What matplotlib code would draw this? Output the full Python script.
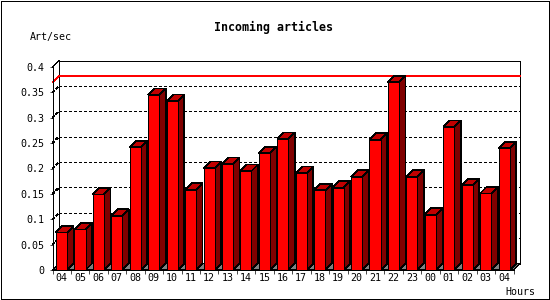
import numpy as np
import matplotlib
matplotlib.use("Agg")
import matplotlib.pyplot as plt
from matplotlib.patches import Rectangle

# ── data ──────────────────────────────────────────────
hours = ['04', '05', '06', '07', '08', '09', '10', '11', '12', '13', '14', '15',
         '16', '17', '18', '19', '20', '21', '22', '23', '00', '01', '02', '03', '04']
art_per_sec = [0.074, 0.080, 0.149, 0.107, 0.242, 0.345, 0.333, 0.158, 0.201,
               0.209, 0.195, 0.230, 0.258, 0.191, 0.157, 0.162, 0.184, 0.257,
               0.370, 0.184, 0.109, 0.282, 0.167, 0.151, 0.240]
y_ticks = [0, 0.05, 0.1, 0.15, 0.2, 0.25, 0.3, 0.35, 0.4]

# ── geometry (pixels of a 550x300 canvas) ─────────────
W, H = 550, 300
X0, X1 = 52.5, 513.5        # front floor, left/right
Y0, Y1 = 270.0, 67.0        # front value 0 / 0.4
DEPTH_PX = 6.5

n = len(hours)
YMAX = y_ticks[-1]
px_per_slot = (X1 - X0) / n
px_per_unit = (Y0 - Y1) / YMAX
DX = DEPTH_PX / px_per_slot
DY = DEPTH_PX / px_per_unit
FACE_OFF, FACE_W = 0.19, 0.60

FRONT = '#ff0000'
TOP = '#c00000'
SIDE = '#800000'
FLOOR = '#808080'
LW = 0.5                    # ~1 px when not antialiased
AA = False                  # crisp, GD-like edges
FONT = 'DejaVu Sans Mono'

fig = plt.figure(figsize=(W / 100, H / 100), dpi=100)
fig.patch.set_facecolor('white')
ax = fig.add_axes([X0 / W, 1 - Y0 / H, (X1 - X0) / W, (Y0 - Y1) / H])
ax.set_xlim(0, n)
ax.set_ylim(0, YMAX)
ax.patch.set_alpha(0)
for s in ('top', 'right'):
    ax.spines[s].set_visible(False)
for s in ('left', 'bottom'):
    ax.spines[s].set_linewidth(LW)
    ax.spines[s].set_zorder(6)
    ax.spines[s].set_antialiased(AA)

# back wall + floor + left side wall
ax.fill([DX, n + DX, n + DX, DX], [DY, DY, YMAX + DY, YMAX + DY],
        facecolor='white', edgecolor='black', lw=LW, antialiased=AA,
        clip_on=False, zorder=1)
ax.fill([0, n, n + DX, DX], [0, 0, DY, DY], facecolor=FLOOR,
        edgecolor='black', lw=LW, antialiased=AA, clip_on=False, zorder=1.5)
ax.plot([0, DX], [YMAX, YMAX + DY], color='black', lw=LW, antialiased=AA,
        clip_on=False, zorder=2)

# dotted grid on back wall and side wall
for v in y_ticks[1:-1]:
    ax.plot([DX, n + DX], [v + DY, v + DY], color='black', lw=LW,
            ls=(0, (3, 3)), antialiased=AA, clip_on=False, zorder=2)
    ax.plot([0, DX], [v, v + DY], color='black', lw=LW,
            ls=(0, (3, 3)), antialiased=AA, clip_on=False, zorder=2)

# red line at the maximum
vmax = max(art_per_sec)
ax.plot([0, DX, n + DX], [vmax, vmax + DY, vmax + DY], color='red', lw=LW,
        antialiased=AA, clip_on=False, zorder=2)

# 3d bars
for i, v in enumerate(art_per_sec):
    a = i + FACE_OFF
    b = a + FACE_W
    ax.fill([b, b + DX, b + DX, b], [0, DY, v + DY, v], facecolor=SIDE,
            edgecolor='black', lw=LW, antialiased=AA, clip_on=False, zorder=3)
    ax.fill([a, b, b + DX, a + DX], [v, v, v + DY, v + DY], facecolor=TOP,
            edgecolor='black', lw=LW, antialiased=AA, clip_on=False, zorder=3)
    ax.fill([a, b, b, a], [0, 0, v, v], facecolor=FRONT,
            edgecolor='black', lw=LW, antialiased=AA, clip_on=False, zorder=4)

# ticks
ax.set_xticks(np.arange(n + 1))
ax.set_xticklabels([])
ax.set_xticks(np.arange(n) + FACE_OFF + FACE_W / 2, minor=True)
ax.set_xticklabels(hours, minor=True, fontfamily=FONT, fontsize=7.2)
ax.tick_params(axis='x', which='major', direction='out', length=3, width=LW)
ax.tick_params(axis='x', which='minor', length=0, pad=2.5)
ax.set_yticks(y_ticks)
ax.set_yticklabels([f'{t:g}' for t in y_ticks], fontfamily=FONT, fontsize=7.2)
ax.tick_params(axis='y', direction='out', length=2.5, width=LW, pad=3)

# texts
fig.text(274 / W, 1 - 27 / H, 'Incoming articles', ha='center', va='center',
         fontfamily=FONT, fontsize=8.4, fontweight='bold')
fig.text(30 / W, 1 - 37 / H, 'Art/sec', ha='left', va='center',
         fontfamily=FONT, fontsize=7.2)
fig.text(505 / W, 1 - 292 / H, 'Hours', ha='left', va='center',
         fontfamily=FONT, fontsize=7.2)

# outer frame
fig.patches.append(Rectangle((0.5 / W, 1.5 / H), 548 / W, 298 / H,
                             transform=fig.transFigure, fill=False,
                             edgecolor='black', lw=0.6, antialiased=AA))

fig.savefig('out.png', dpi=100)
